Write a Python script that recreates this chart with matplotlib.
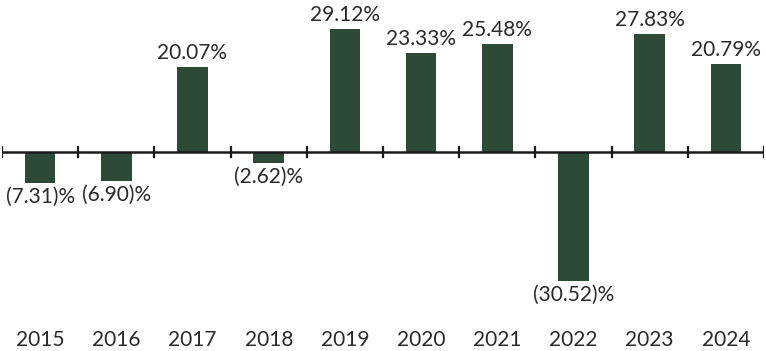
import numpy as np
import matplotlib.pyplot as plt

years = ['2015', '2016', '2017', '2018', '2019', '2020', '2021', '2022', '2023', '2024']
returns = [-7.31, -6.90, 20.07, -2.62, 29.12, 23.33, 25.48, -30.52, 27.83, 20.79]
labels = ['(7.31)%', '(6.90)%', '20.07%', '(2.62)%', '29.12%',
          '23.33%', '25.48%', '(30.52)%', '27.83%', '20.79%']

plt.rcParams['font.family'] = ['Lato', 'DejaVu Sans']

fig = plt.figure(figsize=(7.66, 3.51), dpi=100)
ax = fig.add_axes([2/766, 0, 762/766, 1])
x = np.arange(len(years))
ax.bar(x, returns, width=0.4, color='#2d4a37')

# zero line with boundary ticks
ax.axhline(0, color='#1a1a1a', lw=1.8)
for b in np.arange(len(years) + 1) - 0.5:
    ax.plot([b, b], [-1.2, 1.2], color='#1a1a1a', lw=1.6)

txt = dict(fontsize=15, color='#2a2a2a')
for xi, v, t in zip(x, returns, labels):
    if v >= 0:
        ax.text(xi, v + 1.0, t, ha='center', va='bottom', **txt)
    else:
        ax.text(xi, v - 1.0, t, ha='center', va='top', **txt)

for xi, y in zip(x, years):
    ax.text(xi, -44.6, y, ha='center', va='center', **txt)

ax.set_xlim(-0.5, len(years) - 0.5)
ax.set_ylim(-47.2, 36.0)
ax.axis('off')

fig.savefig('out.png', dpi=100)
